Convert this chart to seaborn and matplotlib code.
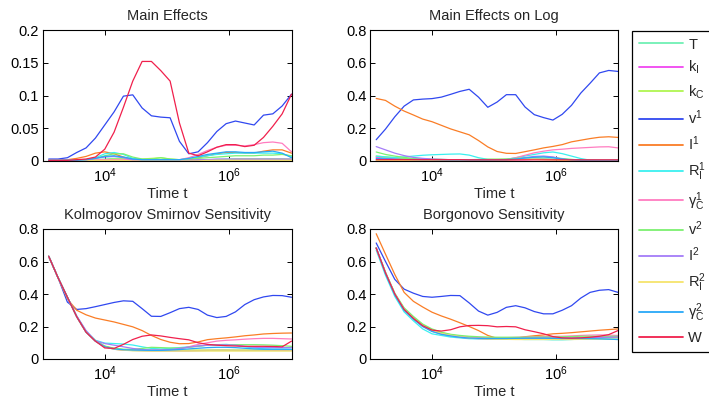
import numpy as np
import pandas as pd
import matplotlib
matplotlib.use("Agg")
import matplotlib.pyplot as plt
import seaborn as sns

# ---------------- data ----------------
log_t = [3.1, 3.25, 3.4, 3.55, 3.7, 3.85, 4.0, 4.15, 4.3, 4.45, 4.6, 4.75, 4.9, 5.05,
         5.2, 5.35, 5.5, 5.65, 5.8, 5.95, 6.1, 6.25, 6.4, 6.55, 6.7, 6.85, 7.0]

series_names = ["T", "k_I", "k_C", "v1", "I1", "R_I1", "gC1", "v2", "I2", "R_I2", "gC2", "W"]
legend_labels = ["T", "$k_I$", "$k_C$", "$v^1$", "$I^1$", "$R_I^1$", r"$\gamma_C^1$",
                 "$v^2$", "$I^2$", "$R_I^2$", r"$\gamma_C^2$", "W"]
colors = ["#6ff0b4", "#f046f0", "#b0f650", "#3048f0", "#fa7d26", "#3af0f0", "#ff7cc0",
          "#7cf070", "#a47cf8", "#f6e46c", "#28a8f8", "#f0204c"]

panel_titles = ["Main Effects", "Main Effects on Log",
                "Kolmogorov Smirnov Sensitivity", "Borgonovo Sensitivity"]

main_effects = {
    "T":    [0.001, 0.001, 0.001, 0.001, 0.002, 0.002, 0.003, 0.004, 0.004, 0.003, 0.002, 0.002, 0.002, 0.002,
             0.002, 0.002, 0.002, 0.002, 0.002, 0.003, 0.003, 0.003, 0.003, 0.003, 0.003, 0.003, 0.002],
    "k_I":  [0.001, 0.001, 0.001, 0.001, 0.001, 0.001, 0.001, 0.002, 0.002, 0.001, 0.001, 0.001, 0.001, 0.001,
             0.001, 0.001, 0.001, 0.001, 0.002, 0.002, 0.002, 0.002, 0.002, 0.002, 0.002, 0.002, 0.002],
    "k_C":  [0.001, 0.001, 0.001, 0.001, 0.001, 0.002, 0.002, 0.003, 0.003, 0.003, 0.003, 0.004, 0.005, 0.003,
             0.002, 0.002, 0.002, 0.002, 0.002, 0.002, 0.003, 0.003, 0.003, 0.003, 0.003, 0.003, 0.003],
    "v1":   [0.003, 0.003, 0.005, 0.013, 0.020, 0.035, 0.055, 0.075, 0.099, 0.101, 0.081, 0.069, 0.067, 0.066,
             0.030, 0.011, 0.014, 0.028, 0.045, 0.057, 0.061, 0.058, 0.055, 0.070, 0.072, 0.084, 0.102],
    "I1":   [0.001, 0.001, 0.002, 0.004, 0.007, 0.012, 0.014, 0.011, 0.006, 0.003, 0.002, 0.002, 0.002, 0.002,
             0.002, 0.002, 0.005, 0.008, 0.011, 0.013, 0.013, 0.012, 0.012, 0.015, 0.017, 0.017, 0.012],
    "R_I1": [0.001, 0.001, 0.001, 0.001, 0.002, 0.005, 0.011, 0.013, 0.010, 0.004, 0.002, 0.002, 0.002, 0.002,
             0.002, 0.003, 0.006, 0.008, 0.010, 0.011, 0.012, 0.012, 0.012, 0.012, 0.012, 0.011, 0.007],
    "gC1":  [0.001, 0.001, 0.001, 0.001, 0.001, 0.002, 0.002, 0.002, 0.002, 0.002, 0.002, 0.002, 0.002, 0.002,
             0.002, 0.005, 0.010, 0.016, 0.021, 0.024, 0.024, 0.023, 0.025, 0.028, 0.029, 0.027, 0.014],
    "v2":   [0.001, 0.001, 0.001, 0.002, 0.002, 0.004, 0.008, 0.011, 0.011, 0.006, 0.003, 0.003, 0.005, 0.003,
             0.002, 0.003, 0.004, 0.005, 0.006, 0.007, 0.008, 0.008, 0.008, 0.009, 0.009, 0.010, 0.008],
    "I2":   [0.001, 0.001, 0.001, 0.001, 0.002, 0.004, 0.006, 0.007, 0.005, 0.002, 0.001, 0.001, 0.001, 0.001,
             0.001, 0.001, 0.002, 0.002, 0.003, 0.003, 0.003, 0.003, 0.003, 0.003, 0.003, 0.003, 0.003],
    "R_I2": [0.000, 0.000, 0.000, 0.000, 0.000, 0.001, 0.001, 0.001, 0.001, 0.000, 0.000, 0.000, 0.000, 0.000,
             0.000, 0.000, 0.000, 0.001, 0.001, 0.001, 0.001, 0.001, 0.001, 0.001, 0.001, 0.001, 0.001],
    "gC2":  [0.001, 0.001, 0.001, 0.001, 0.002, 0.004, 0.007, 0.008, 0.006, 0.003, 0.002, 0.002, 0.002, 0.002,
             0.002, 0.004, 0.007, 0.010, 0.012, 0.014, 0.014, 0.013, 0.013, 0.014, 0.015, 0.012, 0.005],
    "W":    [0.001, 0.001, 0.001, 0.002, 0.003, 0.006, 0.018, 0.044, 0.082, 0.122, 0.152, 0.152, 0.138, 0.122,
             0.058, 0.012, 0.008, 0.014, 0.021, 0.025, 0.025, 0.022, 0.024, 0.036, 0.053, 0.072, 0.102],
}

main_effects_log = {
    "T":    [0.025, 0.020, 0.016, 0.013, 0.011, 0.010, 0.009, 0.009, 0.008, 0.008, 0.007, 0.007, 0.007, 0.007,
             0.008, 0.010, 0.012, 0.014, 0.014, 0.012, 0.009, 0.006, 0.004, 0.003, 0.003, 0.003, 0.003],
    "k_I":  [0.020, 0.016, 0.013, 0.011, 0.009, 0.008, 0.007, 0.006, 0.006, 0.005, 0.005, 0.005, 0.005, 0.005,
             0.006, 0.007, 0.008, 0.010, 0.010, 0.009, 0.007, 0.005, 0.004, 0.003, 0.003, 0.003, 0.003],
    "k_C":  [0.030, 0.025, 0.020, 0.016, 0.013, 0.011, 0.010, 0.009, 0.008, 0.008, 0.008, 0.009, 0.010, 0.010,
             0.010, 0.010, 0.010, 0.010, 0.010, 0.009, 0.008, 0.006, 0.005, 0.004, 0.004, 0.004, 0.004],
    "v1":   [0.130, 0.195, 0.270, 0.335, 0.373, 0.378, 0.381, 0.390, 0.407, 0.425, 0.438, 0.390, 0.328, 0.360,
             0.405, 0.405, 0.330, 0.283, 0.265, 0.250, 0.285, 0.340, 0.415, 0.475, 0.538, 0.553, 0.547],
    "I1":   [0.382, 0.370, 0.335, 0.305, 0.281, 0.256, 0.240, 0.218, 0.196, 0.178, 0.160, 0.125, 0.086, 0.058,
             0.047, 0.046, 0.057, 0.068, 0.080, 0.089, 0.100, 0.117, 0.127, 0.137, 0.145, 0.148, 0.144],
    "R_I1": [0.030, 0.025, 0.022, 0.025, 0.030, 0.035, 0.038, 0.040, 0.042, 0.043, 0.036, 0.020, 0.010, 0.008,
             0.010, 0.020, 0.030, 0.040, 0.050, 0.055, 0.045, 0.030, 0.015, 0.005, 0.002, 0.002, 0.002],
    "gC1":  [0.005, 0.005, 0.005, 0.005, 0.005, 0.005, 0.005, 0.005, 0.005, 0.005, 0.005, 0.005, 0.005, 0.005,
             0.010, 0.020, 0.035, 0.050, 0.060, 0.068, 0.072, 0.077, 0.080, 0.083, 0.086, 0.087, 0.080],
    "v2":   [0.055, 0.040, 0.030, 0.022, 0.016, 0.012, 0.010, 0.009, 0.008, 0.008, 0.008, 0.009, 0.010, 0.011,
             0.012, 0.016, 0.020, 0.023, 0.025, 0.022, 0.015, 0.010, 0.005, 0.004, 0.003, 0.003, 0.003],
    "I2":   [0.088, 0.068, 0.048, 0.033, 0.022, 0.016, 0.012, 0.010, 0.008, 0.006, 0.006, 0.006, 0.006, 0.007,
             0.008, 0.010, 0.020, 0.028, 0.030, 0.025, 0.012, 0.005, 0.003, 0.003, 0.003, 0.003, 0.003],
    "R_I2": [0.003, 0.003, 0.003, 0.003, 0.003, 0.003, 0.003, 0.003, 0.003, 0.003, 0.003, 0.003, 0.004, 0.005,
             0.006, 0.008, 0.010, 0.010, 0.008, 0.006, 0.004, 0.003, 0.003, 0.003, 0.003, 0.003, 0.003],
    "gC2":  [0.015, 0.013, 0.011, 0.010, 0.009, 0.008, 0.008, 0.007, 0.006, 0.006, 0.006, 0.006, 0.006, 0.007,
             0.008, 0.012, 0.018, 0.023, 0.025, 0.020, 0.012, 0.007, 0.005, 0.005, 0.005, 0.005, 0.005],
    "W":    [0.008, 0.008, 0.008, 0.008, 0.008, 0.008, 0.008, 0.008, 0.008, 0.008, 0.007, 0.007, 0.007, 0.007,
             0.007, 0.007, 0.007, 0.007, 0.007, 0.007, 0.007, 0.007, 0.007, 0.007, 0.007, 0.007, 0.007],
}

ks_sensitivity = {
    "T":    [0.632, 0.500, 0.380, 0.260, 0.165, 0.110, 0.075, 0.060, 0.055, 0.052, 0.051, 0.050, 0.050, 0.050,
             0.050, 0.050, 0.051, 0.052, 0.052, 0.052, 0.052, 0.052, 0.052, 0.052, 0.052, 0.052, 0.052],
    "k_I":  [0.632, 0.500, 0.380, 0.260, 0.165, 0.110, 0.078, 0.062, 0.056, 0.053, 0.052, 0.051, 0.051, 0.051,
             0.051, 0.051, 0.052, 0.053, 0.054, 0.054, 0.053, 0.053, 0.053, 0.053, 0.053, 0.053, 0.053],
    "k_C":  [0.632, 0.500, 0.380, 0.260, 0.165, 0.112, 0.080, 0.065, 0.058, 0.055, 0.054, 0.054, 0.055, 0.055,
             0.055, 0.055, 0.055, 0.055, 0.055, 0.055, 0.055, 0.055, 0.055, 0.055, 0.056, 0.056, 0.056],
    "v1":   [0.632, 0.500, 0.350, 0.305, 0.310, 0.322, 0.335, 0.348, 0.358, 0.355, 0.310, 0.263, 0.262, 0.285,
             0.310, 0.318, 0.305, 0.270, 0.255, 0.262, 0.290, 0.335, 0.365, 0.382, 0.391, 0.390, 0.380],
    "I1":   [0.632, 0.500, 0.370, 0.300, 0.272, 0.252, 0.240, 0.228, 0.213, 0.198, 0.175, 0.145, 0.120, 0.103,
             0.094, 0.095, 0.105, 0.119, 0.125, 0.130, 0.136, 0.143, 0.148, 0.154, 0.157, 0.159, 0.160],
    "R_I1": [0.632, 0.500, 0.380, 0.262, 0.170, 0.115, 0.098, 0.095, 0.092, 0.086, 0.075, 0.065, 0.062, 0.065,
             0.070, 0.075, 0.080, 0.085, 0.088, 0.090, 0.085, 0.075, 0.068, 0.063, 0.060, 0.060, 0.058],
    "gC1":  [0.632, 0.500, 0.380, 0.260, 0.165, 0.110, 0.075, 0.060, 0.055, 0.054, 0.054, 0.054, 0.055, 0.056,
             0.060, 0.075, 0.090, 0.100, 0.110, 0.115, 0.118, 0.122, 0.125, 0.127, 0.127, 0.125, 0.123],
    "v2":   [0.632, 0.500, 0.380, 0.262, 0.168, 0.112, 0.078, 0.066, 0.060, 0.060, 0.065, 0.072, 0.070, 0.068,
             0.068, 0.072, 0.078, 0.085, 0.088, 0.088, 0.088, 0.088, 0.088, 0.087, 0.085, 0.082, 0.078],
    "I2":   [0.632, 0.500, 0.380, 0.265, 0.175, 0.112, 0.095, 0.085, 0.075, 0.065, 0.058, 0.055, 0.055, 0.058,
             0.065, 0.073, 0.080, 0.085, 0.087, 0.087, 0.085, 0.078, 0.072, 0.070, 0.070, 0.070, 0.070],
    "R_I2": [0.632, 0.500, 0.380, 0.260, 0.165, 0.110, 0.075, 0.060, 0.054, 0.051, 0.050, 0.049, 0.049, 0.049,
             0.049, 0.049, 0.049, 0.049, 0.049, 0.049, 0.049, 0.049, 0.049, 0.049, 0.049, 0.049, 0.049],
    "gC2":  [0.632, 0.500, 0.380, 0.260, 0.165, 0.110, 0.076, 0.062, 0.057, 0.055, 0.054, 0.053, 0.053, 0.055,
             0.058, 0.062, 0.066, 0.070, 0.072, 0.072, 0.070, 0.066, 0.062, 0.060, 0.060, 0.060, 0.060],
    "W":    [0.632, 0.500, 0.380, 0.260, 0.165, 0.110, 0.068, 0.065, 0.090, 0.120, 0.140, 0.148, 0.142, 0.133,
             0.125, 0.118, 0.100, 0.090, 0.085, 0.082, 0.080, 0.078, 0.078, 0.078, 0.077, 0.075, 0.110],
}

borgonovo_sensitivity = {
    "T":    [0.683, 0.530, 0.400, 0.305, 0.250, 0.205, 0.175, 0.158, 0.147, 0.138, 0.132, 0.128, 0.125, 0.125,
             0.125, 0.124, 0.124, 0.125, 0.125, 0.124, 0.124, 0.125, 0.126, 0.127, 0.128, 0.129, 0.130],
    "k_I":  [0.683, 0.530, 0.400, 0.305, 0.250, 0.205, 0.175, 0.158, 0.148, 0.139, 0.133, 0.129, 0.127, 0.126,
             0.126, 0.126, 0.127, 0.128, 0.129, 0.130, 0.130, 0.130, 0.131, 0.132, 0.133, 0.134, 0.135],
    "k_C":  [0.683, 0.530, 0.400, 0.310, 0.255, 0.210, 0.180, 0.162, 0.150, 0.140, 0.134, 0.130, 0.128, 0.128,
             0.128, 0.128, 0.128, 0.129, 0.130, 0.130, 0.130, 0.131, 0.132, 0.133, 0.134, 0.135, 0.136],
    "v1":   [0.714, 0.600, 0.490, 0.430, 0.405, 0.385, 0.380, 0.385, 0.391, 0.390, 0.345, 0.295, 0.270, 0.287,
             0.318, 0.328, 0.315, 0.292, 0.278, 0.278, 0.300, 0.328, 0.375, 0.410, 0.423, 0.427, 0.410],
    "I1":   [0.771, 0.645, 0.520, 0.410, 0.355, 0.320, 0.288, 0.265, 0.245, 0.223, 0.200, 0.175, 0.145, 0.127,
             0.122, 0.128, 0.137, 0.143, 0.148, 0.155, 0.158, 0.162, 0.167, 0.172, 0.177, 0.181, 0.185],
    "R_I1": [0.670, 0.515, 0.385, 0.290, 0.235, 0.185, 0.155, 0.145, 0.135, 0.130, 0.125, 0.124, 0.124, 0.125,
             0.124, 0.122, 0.120, 0.120, 0.120, 0.118, 0.118, 0.120, 0.123, 0.125, 0.124, 0.122, 0.120],
    "gC1":  [0.683, 0.530, 0.400, 0.305, 0.250, 0.205, 0.175, 0.158, 0.148, 0.140, 0.134, 0.131, 0.130, 0.130,
             0.131, 0.133, 0.135, 0.137, 0.138, 0.139, 0.140, 0.142, 0.145, 0.147, 0.148, 0.147, 0.145],
    "v2":   [0.683, 0.535, 0.405, 0.315, 0.262, 0.215, 0.185, 0.165, 0.152, 0.145, 0.140, 0.137, 0.135, 0.134,
             0.134, 0.134, 0.134, 0.135, 0.135, 0.136, 0.137, 0.138, 0.140, 0.140, 0.140, 0.140, 0.140],
    "I2":   [0.683, 0.530, 0.400, 0.305, 0.248, 0.200, 0.170, 0.153, 0.142, 0.133, 0.128, 0.125, 0.124, 0.124,
             0.124, 0.125, 0.126, 0.127, 0.128, 0.128, 0.128, 0.129, 0.130, 0.131, 0.132, 0.134, 0.135],
    "R_I2": [0.683, 0.530, 0.400, 0.305, 0.250, 0.205, 0.175, 0.157, 0.146, 0.137, 0.130, 0.126, 0.123, 0.122,
             0.121, 0.120, 0.120, 0.120, 0.120, 0.120, 0.120, 0.120, 0.121, 0.121, 0.122, 0.122, 0.122],
    "gC2":  [0.683, 0.525, 0.395, 0.300, 0.245, 0.200, 0.170, 0.152, 0.142, 0.134, 0.129, 0.127, 0.126, 0.126,
             0.126, 0.127, 0.128, 0.128, 0.128, 0.127, 0.126, 0.126, 0.126, 0.125, 0.124, 0.122, 0.120],
    "W":    [0.683, 0.530, 0.400, 0.305, 0.250, 0.205, 0.178, 0.172, 0.180, 0.198, 0.206, 0.207, 0.205, 0.198,
             0.200, 0.198, 0.180, 0.168, 0.155, 0.138, 0.130, 0.128, 0.130, 0.134, 0.140, 0.150, 0.175],
}

panel_data = [main_effects, main_effects_log, ks_sensitivity, borgonovo_sensitivity]
y_limits = [(0, 0.2), (0, 0.8), (0, 0.8), (0, 0.8)]
y_ticks = [[0, 0.05, 0.1, 0.15, 0.2], [0, 0.2, 0.4, 0.6, 0.8],
           [0, 0.2, 0.4, 0.6, 0.8], [0, 0.2, 0.4, 0.6, 0.8]]

# ---------------- style ----------------
sns.set_style("ticks")
plt.rcParams["font.family"] = ["Liberation Sans", "DejaVu Sans"]
plt.rcParams["mathtext.fontset"] = "custom"
plt.rcParams["mathtext.rm"] = "Liberation Sans"
plt.rcParams["mathtext.it"] = "Liberation Sans"
plt.rcParams["mathtext.default"] = "regular"
FS = 10.5

W_PX, H_PX = 709, 401
fig = plt.figure(figsize=(W_PX / 100, H_PX / 100), dpi=100)

def ax_rect(left, top, right, bottom):
    return [left / W_PX, 1 - bottom / H_PX, (right - left) / W_PX, (bottom - top) / H_PX]

rects = [ax_rect(42.5, 30, 291.5, 161), ax_rect(370, 30, 618, 161),
         ax_rect(42.5, 229, 291.5, 359), ax_rect(370, 229, 618, 359)]

palette = dict(zip(series_names, colors))
t_values = [10 ** e for e in log_t]

for i, (rect, data) in enumerate(zip(rects, panel_data)):
    ax = fig.add_axes(rect)
    df = pd.DataFrame({"t": t_values * len(series_names),
                       "value": [v for name in series_names for v in data[name]],
                       "series": [name for name in series_names for _ in log_t]})
    sns.lineplot(data=df, x="t", y="value", hue="series", hue_order=series_names,
                 palette=palette, linewidth=0.9, legend=False, ax=ax, estimator=None,
                 sort=False)
    ax.set_xscale("log")
    ax.set_xlim(1e3, 1e7)
    ax.set_ylim(*y_limits[i])
    ax.set_xticks([1e4, 1e6])
    ax.xaxis.set_minor_locator(matplotlib.ticker.NullLocator())
    ax.set_yticks(y_ticks[i])
    ax.yaxis.set_major_formatter(matplotlib.ticker.FuncFormatter(lambda v, p: "%g" % v))
    ax.tick_params(direction="in", top=True, right=True, length=3.5, width=0.7,
                   labelsize=FS, colors="black")
    ax.tick_params(axis="y", pad=2.5)
    ax.tick_params(axis="x", pad=4)
    for sp in ax.spines.values():
        sp.set_visible(True)
        sp.set_linewidth(0.8)
        sp.set_color("black")
    ax.set_title(panel_titles[i], fontsize=FS, pad=7)
    ax.set_xlabel("Time t", fontsize=FS, labelpad=1)
    ax.set_ylabel("")

handles = [matplotlib.lines.Line2D([], [], color=c, linewidth=1.3) for c in colors]
leg = fig.legend(handles, legend_labels, loc="upper left",
                 bbox_to_anchor=(632 / W_PX, 1 - 31 / H_PX), bbox_transform=fig.transFigure,
                 frameon=True, fancybox=False, edgecolor="black", framealpha=1,
                 borderaxespad=0, handlelength=3.05, handletextpad=0.35,
                 labelspacing=0.5, borderpad=0.45, fontsize=FS)
leg.get_frame().set_linewidth(0.9)

fig.savefig("out.png", dpi=100)
